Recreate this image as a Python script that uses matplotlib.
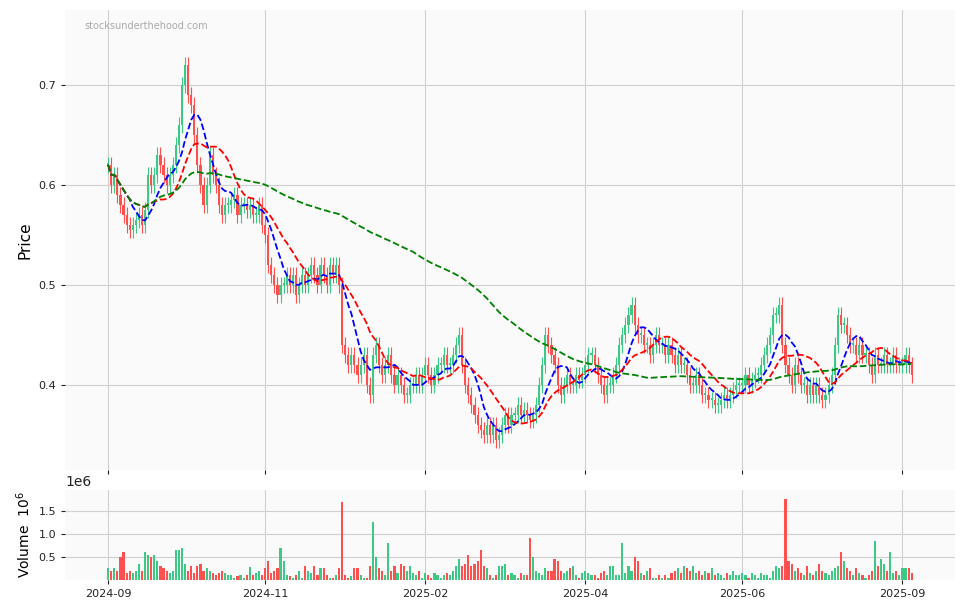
import matplotlib
matplotlib.use("Agg")
import matplotlib.pyplot as plt
import numpy as np
import pandas as pd

closes = [
0.62,0.60,0.61,0.59,0.58,0.57,0.56,0.555,0.56,0.565,0.57,0.56,0.575,0.61,0.60,0.61,0.63,0.62,0.61,0.60,
0.61,0.62,0.64,0.66,0.70,0.72,0.69,0.68,0.65,0.62,0.60,0.58,0.60,0.63,0.61,0.60,0.58,0.57,0.58,0.58,
0.585,0.59,0.57,0.58,0.58,0.575,0.58,0.57,0.57,0.58,0.56,0.55,0.52,0.51,0.50,0.49,0.50,0.50,0.51,0.50,
0.51,0.49,0.50,0.51,0.50,0.51,0.52,0.51,0.50,0.52,0.51,0.50,0.52,0.51,0.52,0.50,0.44,0.43,0.42,0.43,
0.42,0.41,0.42,0.43,0.40,0.39,0.43,0.44,0.42,0.41,0.42,0.43,0.41,0.40,0.41,0.40,0.39,0.39,0.40,0.40,
0.41,0.40,0.41,0.42,0.41,0.40,0.41,0.42,0.42,0.43,0.42,0.42,0.43,0.44,0.45,0.42,0.40,0.39,0.38,0.37,
0.36,0.355,0.35,0.36,0.35,0.36,0.345,0.35,0.36,0.37,0.36,0.37,0.37,0.38,0.37,0.375,0.37,0.365,0.37,0.38,
0.40,0.42,0.45,0.44,0.43,0.42,0.40,0.39,0.40,0.41,0.40,0.40,0.41,0.405,0.41,0.42,0.43,0.43,0.42,0.41,
0.40,0.39,0.40,0.40,0.41,0.42,0.44,0.45,0.46,0.47,0.48,0.46,0.45,0.45,0.44,0.44,0.43,0.44,0.45,0.44,
0.44,0.43,0.44,0.43,0.42,0.43,0.42,0.42,0.41,0.40,0.40,0.41,0.40,0.39,0.39,0.385,0.385,0.38,0.38,0.385,
0.39,0.385,0.39,0.395,0.40,0.40,0.40,0.41,0.40,0.405,0.41,0.41,0.42,0.43,0.44,0.45,0.47,0.47,0.48,0.44,
0.42,0.41,0.40,0.42,0.41,0.40,0.40,0.39,0.40,0.39,0.40,0.39,0.385,0.39,0.40,0.41,0.44,0.47,0.46,0.46,
0.45,0.44,0.44,0.43,0.44,0.43,0.43,0.42,0.41,0.43,0.42,0.42,0.43,0.42,0.42,0.43,0.42,0.42,0.42,0.43,
0.42,0.41]
volumes = [
0.25,0.2,0.25,0.2,0.5,0.6,0.15,0.2,0.15,0.2,     # 0-9
0.35,0.2,0.6,0.55,0.5,0.55,0.4,0.3,0.25,0.2,     # 10-19
0.15,0.2,0.65,0.65,0.7,0.35,0.2,0.3,0.15,0.3,    # 20-29
0.35,0.2,0.25,0.2,0.15,0.1,0.15,0.2,0.15,0.1,    # 30-39
0.1,0.05,0.08,0.1,0.05,0.1,0.28,0.1,0.15,0.2,    # 40-49
0.1,0.25,0.4,0.15,0.2,0.25,0.7,0.4,0.1,0.08,     # 50-59
0.05,0.1,0.2,0.05,0.3,0.2,0.15,0.3,0.1,0.25,     # 60-69
0.25,0.1,0.05,0.05,0.1,0.25,1.7,0.1,0.05,0.08,   # 70-79
0.25,0.25,0.1,0.05,0.05,0.3,1.25,0.5,0.25,0.2,   # 80-89
0.1,0.8,0.2,0.3,0.15,0.35,0.3,0.2,0.3,0.15,      # 90-99
0.1,0.2,0.05,0.15,0.1,0.05,0.15,0.1,0.05,0.1,    # 100-109
0.15,0.1,0.2,0.3,0.45,0.3,0.35,0.55,0.3,0.35,    # 110-119
0.4,0.65,0.3,0.25,0.1,0.05,0.1,0.3,0.3,0.35,     # 120-129
0.1,0.15,0.1,0.05,0.15,0.1,0.1,0.9,0.5,0.2,      # 130-139
0.15,0.1,0.25,0.2,0.2,0.45,0.4,0.2,0.15,0.2,     # 140-149
0.25,0.3,0.1,0.05,0.15,0.2,0.15,0.1,0.1,0.05,    # 150-159
0.15,0.2,0.1,0.3,0.3,0.1,0.1,0.8,0.15,0.3,       # 160-169
0.2,0.5,0.4,0.15,0.1,0.2,0.25,0.05,0.05,0.1,     # 170-179
0.05,0.1,0.05,0.15,0.2,0.25,0.15,0.3,0.25,0.2,   # 180-189
0.3,0.15,0.2,0.1,0.2,0.15,0.25,0.1,0.15,0.1,     # 190-199
0.05,0.15,0.1,0.2,0.1,0.1,0.15,0.1,0.05,0.15,    # 200-209
0.1,0.05,0.15,0.1,0.1,0.05,0.2,0.3,0.25,0.3,     # 210-219
1.75,0.4,0.35,0.2,0.25,0.15,0.1,0.3,0.15,0.1,    # 220-229
0.2,0.35,0.2,0.15,0.1,0.2,0.25,0.3,0.6,0.4,      # 230-239
0.25,0.2,0.1,0.25,0.15,0.1,0.05,0.1,0.2,0.85,    # 240-249
0.3,0.45,0.35,0.2,0.6,0.15,0.2,0.1,0.25,0.25,    # 250-259
0.25]                                            # 260
tick_labels = ["2024-09","2024-11","2025-02","2025-04","2025-06","2025-09"]
tick_pos = [0, 51, 103, 155, 206, 258]

n = len(closes)
volumes = (volumes + [0.15]*n)[:n]
c = np.array(closes)
o = np.r_[c[0], c[:-1]]
hi = np.maximum(o, c) + 0.008
lo = np.minimum(o, c) - 0.008
v = np.array(volumes) * 1e6
x = np.arange(n)
up = c >= o
colors = np.where(up, "#3dc985", "#ff5050")

fig = plt.figure(figsize=(9.63, 6.11), dpi=100)
ax1 = fig.add_axes([0.0675, 0.231, 0.924, 0.753])
ax2 = fig.add_axes([0.0675, 0.051, 0.924, 0.147], sharex=ax1)
for ax in (ax1, ax2):
    ax.set_facecolor("#fafafa")
    ax.grid(True, color="#d0d0d0", linewidth=0.8)
    ax.set_axisbelow(True)
    for s in ax.spines.values():
        s.set_visible(False)
    ax.tick_params(length=3, labelsize=8, colors="#222")

ax1.vlines(x, lo, hi, colors=colors, linewidth=0.8)
body = np.maximum(np.abs(c - o), 0.002)
ax1.bar(x, body, bottom=np.minimum(o, c), width=0.7, color=colors)
s = pd.Series(c)
ax1.plot(x, s.rolling(8, min_periods=1).mean(), "--", color="blue", lw=1.3)
ax1.plot(x, s.rolling(16, min_periods=1).mean(), "--", color="red", lw=1.3)
ax1.plot(x, s.rolling(100, min_periods=1).mean(), "--", color="green", lw=1.3)
ax1.set_ylim(0.315, 0.775)
ax1.set_yticks([0.4, 0.5, 0.6, 0.7])
ax1.set_xlim(-14, 275)
ax1.set_ylabel("Price", fontsize=11)
ax1.text(0.022, 0.975, "stocksunderthehood.com", transform=ax1.transAxes,
         fontsize=7, color="#aaaaaa", va="top")
plt.setp(ax1.get_xticklabels(), visible=False)

ax2.bar(x, v, width=0.7, color=colors)
ax2.set_ylim(0, 1.95e6)
ax2.set_yticks([0.5e6, 1.0e6, 1.5e6])
ax2.set_xticks(tick_pos)
ax2.set_xticklabels(tick_labels)
ax2.set_ylabel("Volume  $10^{6}$", fontsize=10)
ax2.yaxis.get_offset_text().set_fontsize(10)
fig.savefig("out.png", dpi=100)
